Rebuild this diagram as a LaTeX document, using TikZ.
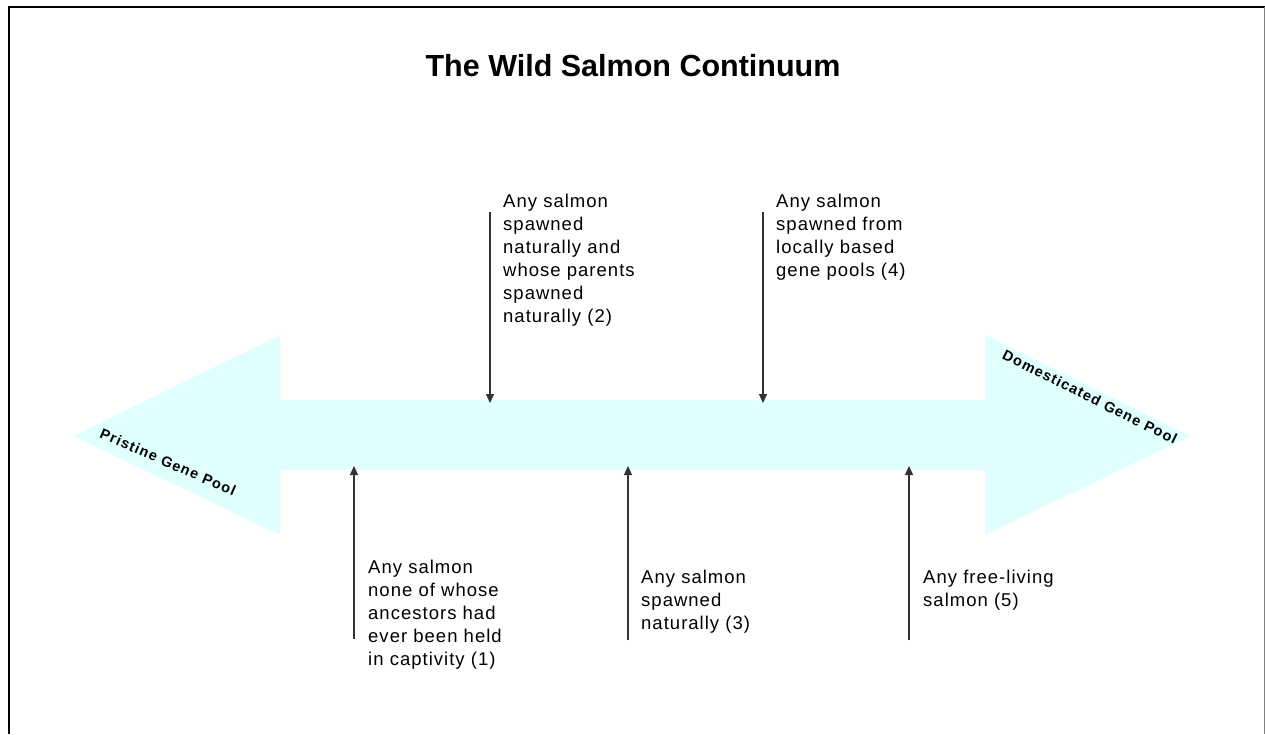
\documentclass[tikz,border=0pt]{standalone}
\usepackage{fontspec}
\setmainfont{Liberation Sans}
\newfontfamily\notefont[LetterSpace=5.5]{Liberation Sans}
\newfontfamily\tagfont[LetterSpace=8]{Liberation Sans}
\usepackage{tikz}
\usetikzlibrary{positioning}
\usetikzlibrary{arrows.meta}
\definecolor{shaftcyan}{RGB}{224,255,255}
\definecolor{pointergray}{RGB}{51,51,51}

\begin{document}
\begin{tikzpicture}[x=1pt,y=-1pt,
	note/.style={anchor=north west, inner sep=0pt, align=left, font=\notefont\fontsize{18.5}{23}\selectfont},
	pointer/.style={draw=pointergray, line width=1.3pt, -{Triangle[length=9pt,width=8pt]}},
	tag/.style={inner sep=0pt, font=\tagfont\bfseries\fontsize{14.5}{16}\selectfont}]
	\useasboundingbox (0,0) rectangle (1265,734);
	
	% Frame
	\draw [line width=2pt] (9,734) -- (9,7) -- (1265,7);
	\draw [gray, line width=1pt] (1264,7) -- (1264,734);
	
	% Title
	\node [inner sep=0pt, font=\bfseries\fontsize{30.5}{36}\selectfont] at (633,66) (title) {The Wild Salmon Continuum};
	
	% Double arrow
	\fill [shaftcyan] (73,436) -- (280,335) -- (280,400) -- (985,400) -- (985,335) -- (1190,436)
		-- (985,535) -- (985,470) -- (280,470) -- (280,535) -- cycle;
	\node [tag, rotate=-23.5] at (168,462) (pristine) {Pristine Gene Pool};
	\node [tag, rotate=-26.5] at (1090,397) (domestic) {Domesticated Gene Pool};
	
	% Upper notes
	\node [note] at (503,193.5) (n2) {Any salmon\\spawned\\naturally and\\whose parents\\spawned\\naturally (2)};
	\node [note] at (776,193.5) (n4) {Any salmon\\spawned from\\locally based\\gene pools (4)};
	
	% Lower notes
	\node [note] at (368,559.5) (n1) {Any salmon\\none of whose\\ancestors had\\ever been held\\in captivity (1)};
	\node [note] at (641,569.5) (n3) {Any salmon\\spawned\\naturally (3)};
	\node [note] at (923,569.5) (n5) {Any free-living\\salmon (5)};
	
	% Pointer ends
	\coordinate (s2) at (490,212);
	\coordinate (e2) at (490,403);
	\coordinate (s4) at (763,212);
	\coordinate (e4) at (763,403);
	\coordinate (s1) at (354,639);
	\coordinate (e1) at (354,466);
	\coordinate (s3) at (628,640);
	\coordinate (e3) at (628,466);
	\coordinate (s5) at (909,640);
	\coordinate (e5) at (909,466);
	
	% Connections
	\draw [pointer] (s2) -- (e2);
	\draw [pointer] (s4) -- (e4);
	\draw [pointer] (s1) -- (e1);
	\draw [pointer] (s3) -- (e3);
	\draw [pointer] (s5) -- (e5);
	
\end{tikzpicture}
\end{document}
